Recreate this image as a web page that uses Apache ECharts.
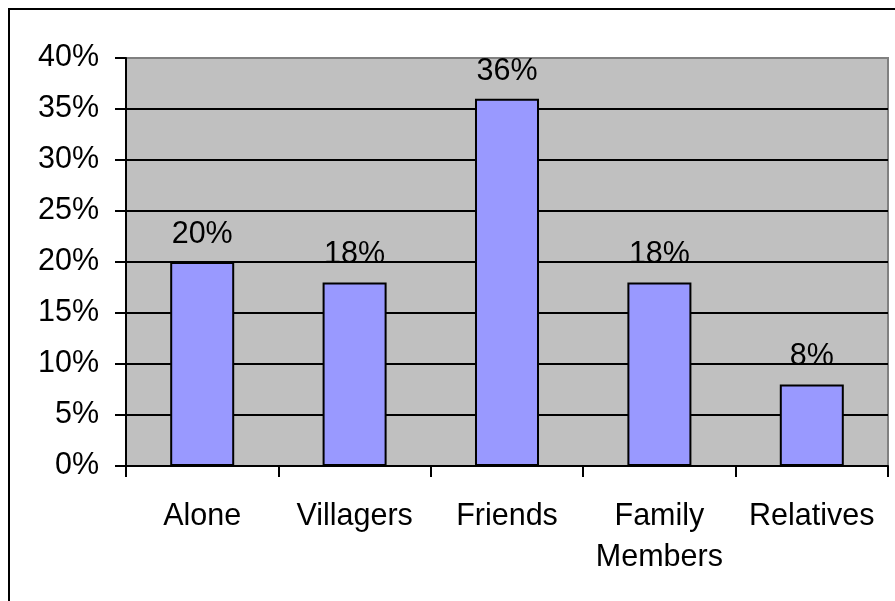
<!DOCTYPE html>
<html>
<head>
<meta charset="utf-8">
<script src="https://cdn.jsdelivr.net/npm/echarts@6/dist/echarts.min.js"></script>
<style>
  html, body { margin: 0; padding: 0; background: #fff; }
  #chart { width: 895px; height: 601px; }
</style>
</head>
<body>
<div id="chart"></div>
<script>
// Who respondents live with, share of answers (%)
const categories = ['Alone', 'Villagers', 'Friends', 'Family\nMembers', 'Relatives'];
const shares = [20, 18, 36, 18, 8];
const yTicks = { min: 0, max: 40, interval: 5 };

const FONT = '"Liberation Sans", Arial, sans-serif';
const FONT_SIZE = 30.5;

// Black gridlines, except the top one which merges into the grey plot border
const gridColors = [];
for (let v = yTicks.min; v <= yTicks.max; v += yTicks.interval) {
  gridColors.push(v === yTicks.max ? '#808080' : '#000000');
}

const chart = echarts.init(document.getElementById('chart'), null, { renderer: 'canvas' });
chart.setOption({
  animation: false,
  backgroundColor: '#ffffff',
  textStyle: { fontFamily: FONT },
  graphic: [{
    type: 'rect',
    shape: { x: 9, y: 9, width: 1000, height: 700 },
    style: { fill: null, stroke: '#000', lineWidth: 2 },
    silent: true,
    z: -10
  }],
  grid: {
    left: 126, top: 58, right: 7, bottom: 135,
    show: true,
    backgroundColor: '#C0C0C0',
    borderColor: '#808080',
    borderWidth: 2
  },
  xAxis: {
    type: 'category',
    data: categories,
    axisLine: { show: true, lineStyle: { color: '#000', width: 2 } },
    axisTick: { show: true, length: 11, lineStyle: { color: '#000', width: 2 } },
    axisLabel: {
      color: '#000', fontSize: FONT_SIZE, fontFamily: FONT,
      margin: 30, lineHeight: 41, verticalAlign: 'top', interval: 0
    },
    splitLine: { show: false }
  },
  yAxis: {
    type: 'value',
    min: yTicks.min, max: yTicks.max, interval: yTicks.interval,
    axisLine: { show: true, lineStyle: { color: '#000', width: 2 } },
    axisTick: { show: true, length: 11, lineStyle: { color: '#000', width: 2 } },
    axisLabel: {
      color: '#000', fontSize: FONT_SIZE, fontFamily: FONT, margin: 27,
      padding: [4, 0, 0, 0],
      formatter: v => v + '%'
    },
    splitLine: { show: true, lineStyle: { color: gridColors, width: 2 } }
  },
  series: [{
    type: 'bar',
    data: shares,
    barWidth: '42%',
    itemStyle: { color: '#9999FF', borderColor: '#000', borderWidth: 2 },
    label: {
      show: true, position: 'top', distance: 12,
      color: '#000', fontSize: FONT_SIZE, fontFamily: FONT,
      formatter: p => p.value + '%'
    }
  }]
});
</script>
</body>
</html>
